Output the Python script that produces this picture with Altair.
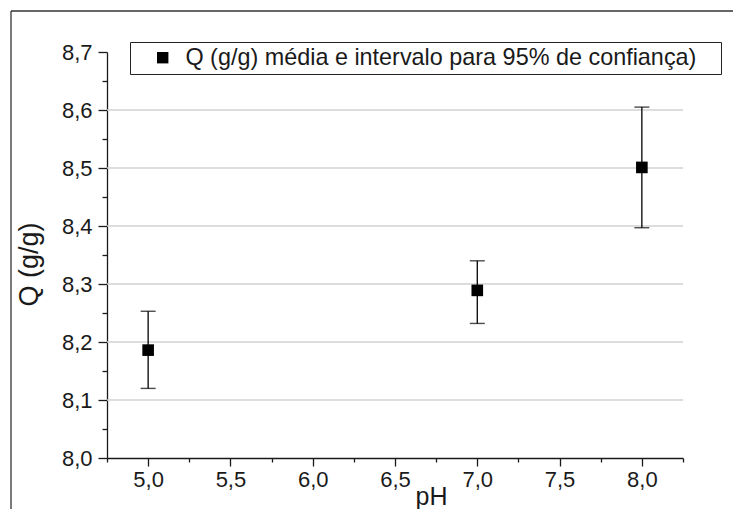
import altair as alt
import pandas as pd

# ---- data ----
ph = [5.0, 7.0, 8.0]
q_mean = [8.186, 8.289, 8.501]
q_lower = [8.120, 8.232, 8.397]
q_upper = [8.253, 8.340, 8.605]
series_label = "Q (g/g) média e intervalo para 95% de confiança)"

grid_values = [8.1, 8.2, 8.3, 8.4, 8.5, 8.6]
x_tick_values = [4.75, 5.0, 5.25, 5.5, 5.75, 6.0, 6.25, 6.5, 6.75, 7.0, 7.25, 7.5, 7.75, 8.0, 8.25]
y_tick_values = [8.0, 8.05, 8.1, 8.15, 8.2, 8.25, 8.3, 8.35, 8.4, 8.45, 8.5, 8.55, 8.6, 8.65, 8.7]

df = pd.DataFrame({"pH": ph, "Q": q_mean, "lo": q_lower, "hi": q_upper,
                   "serie": [series_label] * len(ph)})
caps = pd.DataFrame({"pH": ph + ph, "v": q_lower + q_upper})
grid_df = pd.DataFrame({"g": grid_values})
one = pd.DataFrame({"a": [0]})

FONT = "Liberation Sans"
INK = "#1a1a1a"

x_major = "abs(datum.value*2 - round(datum.value*2)) < 0.001"
y_major = "abs(datum.value*10 - round(datum.value*10)) < 0.001"

xscale = alt.Scale(domain=[4.75, 8.25], nice=False, zero=False)
yscale = alt.Scale(domain=[8.0, 8.7], nice=False, zero=False)

xaxis = alt.Axis(
    values=x_tick_values, grid=False, title="pH",
    labelExpr=f"{x_major} ? replace(format(datum.value, '.1f'), '.', ',') : ''",
    tickSize={"condition": {"test": x_major, "value": 8}, "value": 4},
    tickColor=INK, tickWidth=1.3, domainColor=INK, domainWidth=1.3,
    labelFont=FONT, labelFontSize=22, labelColor=INK, labelPadding=3,
    labelFlush=False, labelOverlap=False,
    titleFont=FONT, titleFontSize=25, titleFontWeight="normal", titleColor=INK,
    titleX=324, titleY=46, titleAlign="center", titleBaseline="alphabetic",
    titleAnchor="start",
)
yaxis = alt.Axis(
    values=y_tick_values, grid=False, title="Q (g/g)",
    labelExpr=f"{y_major} ? replace(format(datum.value, '.1f'), '.', ',') : ''",
    tickSize={"condition": {"test": y_major, "value": 9}, "value": 5},
    tickColor=INK, tickWidth=1.3, domainColor=INK, domainWidth=1.3,
    labelFont=FONT, labelFontSize=22, labelColor=INK, labelPadding=6,
    labelFlush=False, labelOverlap=False,
    titleFont=FONT, titleFontSize=27, titleFontWeight="normal", titleColor=INK,
    titleX=-70, titleY=212, titleAlign="center", titleBaseline="alphabetic",
    titleAngle=270, titleAnchor="start",
)

base_x = alt.X("pH:Q", scale=xscale, axis=xaxis)

grid = alt.Chart(grid_df).mark_rule(color="#d2d2d2", strokeWidth=1.3).encode(
    y=alt.Y("g:Q", scale=yscale, axis=yaxis)
)

bars = alt.Chart(df).mark_rule(color="black", strokeWidth=1.3).encode(
    x=base_x,
    y=alt.Y("lo:Q", scale=yscale, axis=yaxis),
    y2="hi:Q",
)

cap_ticks = alt.Chart(caps).mark_tick(
    orient="horizontal", size=15, thickness=1.4, color="black"
).encode(
    x=base_x,
    y=alt.Y("v:Q", scale=yscale, axis=yaxis),
)

points = alt.Chart(df).mark_square(size=135, opacity=1).encode(
    x=base_x,
    y=alt.Y("Q:Q", scale=yscale, axis=yaxis),
    color=alt.Color(
        "serie:N",
        scale=alt.Scale(range=["black"]),
        legend=alt.Legend(
            orient="none", legendX=23, legendY=-10,
            title="\u00a0", titleOrient="right", titlePadding=21,
            titleFontSize=23,
            symbolType="square", symbolSize=130, symbolStrokeWidth=0,
            symbolOffset=17, labelOffset=11,
            labelFont=FONT, labelFontSize=23.4, labelColor=INK, labelLimit=0,
            strokeColor="#222", fillColor="white", padding=4,
        ),
    ),
)

frame_top = alt.Chart(one).mark_rule(color="#333", strokeWidth=1.3).encode(
    x=alt.value(-96), x2=alt.value(700), y=alt.value(-41)
)
frame_left = alt.Chart(one).mark_rule(color="#333", strokeWidth=1.3).encode(
    x=alt.value(-96), y=alt.value(-41), y2=alt.value(520)
)

chart = alt.layer(grid, bars, cap_ticks, points, frame_top, frame_left).properties(
    width=576, height=406,
    autosize=alt.AutoSizeParams(type="none"),
    padding={"left": 99, "top": 44, "right": 50, "bottom": 51},
    background="white",
).configure_view(stroke=None)

chart.save("out.html", embed_options={"renderer": "svg", "actions": False})
